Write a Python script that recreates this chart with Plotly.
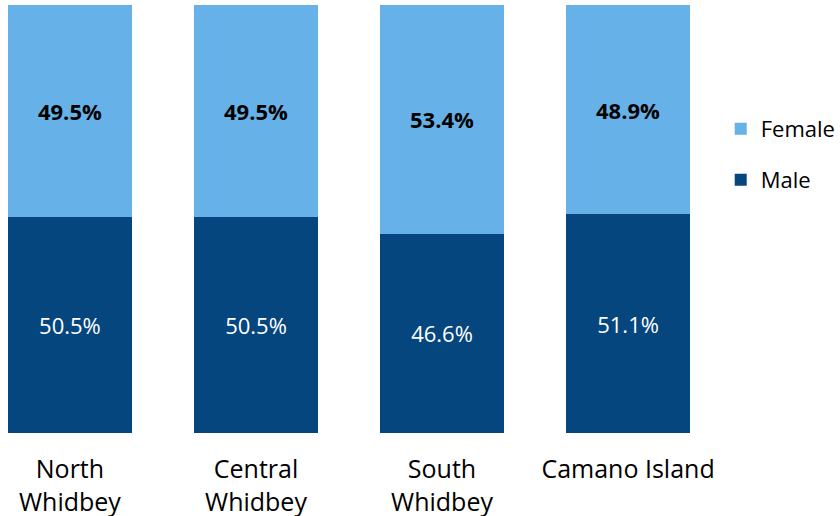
import plotly.graph_objects as go

# ---------------------------------------------------------------------------
# Data
# ---------------------------------------------------------------------------
regions = ["North<br>Whidbey", "Central<br>Whidbey", "South<br>Whidbey", "Camano Island"]
male_pct = [50.5, 50.5, 46.6, 51.1]
female_pct = [49.5, 49.5, 53.4, 48.9]

LIGHT_BLUE = "#66B2E8"
DARK_BLUE = "#05467E"
FONT = "Open Sans"

fig = go.Figure()

# male on the bottom, female stacked on top
fig.add_trace(go.Bar(
    x=regions, y=male_pct, name="Male",
    marker=dict(color=DARK_BLUE, line=dict(width=0)),
    texttemplate="%{y:.1f}%", textposition="inside",
    insidetextanchor="middle",
    textfont=dict(family=FONT, size=22, color="white"),
    legend="legend2",
))
fig.add_trace(go.Bar(
    x=regions, y=female_pct, name="Female",
    marker=dict(color=LIGHT_BLUE, line=dict(width=0)),
    texttemplate="<b>%{y:.1f}%</b>", textposition="inside",
    insidetextanchor="middle",
    textfont=dict(family=FONT, size=22, color="black"),
    legend="legend",
))

# one legend per entry, so the rows can sit far apart like the original
legend_style = dict(
    xref="container", x=0.858, xanchor="left",
    yref="container", yanchor="top",
    font=dict(size=22, family=FONT, color="black"),
    itemwidth=30,
)

fig.update_layout(
    width=840, height=516,
    margin=dict(l=8, r=150, t=5, b=83, autoexpand=False),
    barmode="stack",
    bargap=1 / 3,
    plot_bgcolor="white",
    paper_bgcolor="white",
    font=dict(family=FONT, color="black"),
    xaxis=dict(
        range=[-0.333, 3.333],
        showgrid=False, zeroline=False, showline=False,
        ticks="", ticklabelstandoff=19, automargin=False,
        tickfont=dict(size=25, family=FONT, color="black"),
    ),
    yaxis=dict(range=[0, 100], visible=False, automargin=False),
    legend=dict(legend_style, y=0.791),
    legend2=dict(legend_style, y=0.692),
    showlegend=True,
)

# drop the browser's default body margin so the figure sits at the page corner
fig.write_html(
    "out.html",
    config={"displayModeBar": False},
    post_script="document.body.style.margin='0';",
)
